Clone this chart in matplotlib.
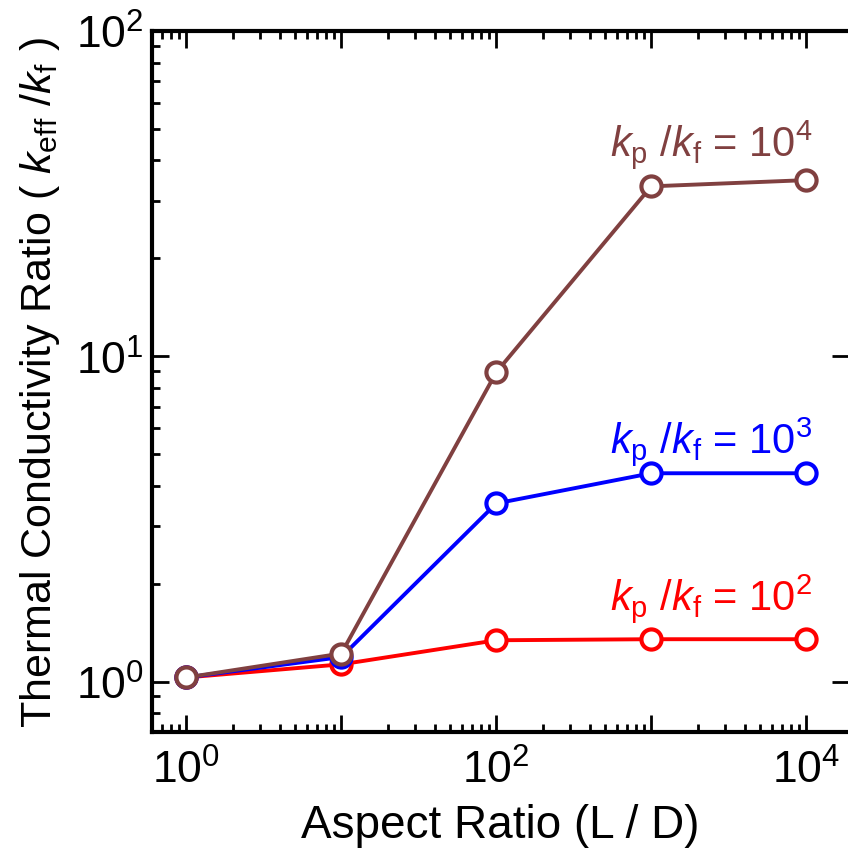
import numpy as np
import matplotlib
matplotlib.use("Agg")
import matplotlib.pyplot as plt
from matplotlib.ticker import LogLocator, FuncFormatter, NullFormatter

plt.rcParams['font.family'] = 'Liberation Sans'
plt.rcParams['mathtext.fontset'] = 'custom'
plt.rcParams['mathtext.rm'] = 'Liberation Sans'
plt.rcParams['mathtext.it'] = 'Liberation Sans:italic'
plt.rcParams['mathtext.default'] = 'regular'

# aspect ratio L/D and effective conductivity ratio for each particle/fluid ratio
aspect = [1, 10, 100, 1000, 10000]
k_1e2 = [1.03, 1.13, 1.34, 1.35, 1.35]
k_1e3 = [1.03, 1.19, 3.53, 4.37, 4.37]
k_1e4 = [1.03, 1.22, 8.93, 33.3, 34.8]

series = [
    (k_1e2, '#ff0000', '2', 1.82),
    (k_1e3, '#0000ff', '3', 5.5),
    (k_1e4, '#804040', '4', 45),
]

fig = plt.figure(figsize=(8.48, 8.54), dpi=100)
ax = fig.add_axes([152 / 848, 1 - 733 / 854, 697 / 848, 701 / 854])

for vals, col, expo, ly in series:
    ax.plot(aspect, vals, '-o', color=col, lw=2.8, ms=14.5, mfc='white',
            mec=col, mew=3)

ax.set_xscale('log')
ax.set_yscale('log')
ax.set_xlim(0.6, 18900)
ax.set_ylim(0.7, 100)

# text labels above the plateau of each curve
for vals, col, expo, ly in series:
    ax.text(2450, ly,
            r'$\mathit{k}_{\mathrm{p}}$ /$\mathit{k}_{\mathrm{f}}$ = 10$^{%s}$' % expo,
            color=col, fontsize=30, ha='center', va='center')

ax.xaxis.set_major_locator(LogLocator(base=10, numticks=10))
ax.xaxis.set_major_formatter(FuncFormatter(
    lambda v, p: r'$10^{%d}$' % round(np.log10(v)) if round(np.log10(v)) % 2 == 0 else ''))
ax.yaxis.set_major_formatter(FuncFormatter(lambda v, p: r'$10^{%d}$' % round(np.log10(v))))
ax.xaxis.set_minor_locator(LogLocator(base=10, subs=np.arange(2, 10), numticks=20))
ax.yaxis.set_minor_locator(LogLocator(base=10, subs=np.arange(2, 10), numticks=20))
ax.xaxis.set_minor_formatter(NullFormatter())
ax.yaxis.set_minor_formatter(NullFormatter())

ax.tick_params(which='both', direction='in', top=True, right=True, width=2,
               labelsize=32)
ax.tick_params(axis='x', pad=12)
ax.tick_params(axis='y', pad=6)
ax.tick_params(which='major', length=12)
ax.tick_params(which='minor', length=6, right=False)
for s in ax.spines.values():
    s.set_linewidth(3)
ax.spines['right'].set_visible(False)

ax.set_xlabel('Aspect Ratio (L / D)', fontsize=33, labelpad=8)
ax.set_ylabel(r'Thermal Conductivity Ratio ( $\mathit{k}_{\mathrm{eff}}$ /$\mathit{k}_{\mathrm{f}}$ )',
              fontsize=31, labelpad=10)

fig.savefig('out.png', dpi=100)
